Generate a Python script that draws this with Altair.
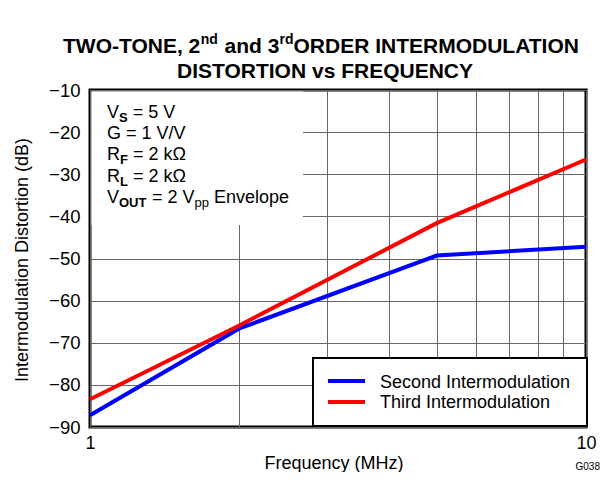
import altair as alt
import pandas as pd

# ---- data ----
freq = [1, 2, 5, 10]
second_im = [-87.2, -66.6, -49.3, -47.2]
third_im = [-83.4, -65.9, -41.6, -26.5]
series_names = ["Second Intermodulation", "Third Intermodulation"]
series_colors = ["#0000ff", "#ff0000"]
x_ticks = [1, 2, 3, 4, 5, 6, 7, 8, 9, 10]
y_ticks = [-90, -80, -70, -60, -50, -40, -30, -20, -10]

FONT = "Liberation Sans"
W, H = 496, 337

df = pd.DataFrame({
    "freq": freq + freq,
    "db": second_im + third_im,
    "series": [series_names[0]] * len(freq) + [series_names[1]] * len(freq),
})
one = pd.DataFrame({"k": [0]})


def txt(s, x, y, size, weight="normal", align="left", angle=0):
    return alt.Chart(one).mark_text(
        text=s, font=FONT, fontSize=size, fontWeight=weight, align=align,
        baseline="alphabetic", angle=angle, color="black"
    ).encode(x=alt.value(x), y=alt.value(y))


lines = alt.Chart(df).mark_line(strokeWidth=4).encode(
    x=alt.X("freq:Q",
            scale=alt.Scale(type="log", domain=[1, 10], nice=False),
            axis=alt.Axis(values=x_ticks, grid=True, gridColor="#666", gridWidth=1,
                          ticks=False, domain=False, labelFlush=False,
                          labelExpr="datum.value == 1 || datum.value == 10 ? datum.label : ''",
                          labelFontSize=18, labelFont=FONT, labelColor="black",
                          labelPadding=7, title=None)),
    y=alt.Y("db:Q",
            scale=alt.Scale(domain=[-90, -10], nice=False),
            axis=alt.Axis(values=y_ticks, grid=True, gridColor="#666", gridWidth=1,
                          ticks=False, domain=False, labelFlush=False,
                          labelFontSize=18.5, labelFont=FONT, labelColor="black",
                          labelPadding=10, title=None)),
    color=alt.Color("series:N", scale=alt.Scale(domain=series_names, range=series_colors),
                    legend=None),
    detail="series:N",
)

info_box = alt.Chart(one).mark_rect(fill="white", stroke=None).encode(
    x=alt.value(1.5), x2=alt.value(213), y=alt.value(1.5), y2=alt.value(135))

legend_box = alt.Chart(one).mark_rect(fill="white", stroke="black", strokeWidth=2).encode(
    x=alt.value(223), x2=alt.value(497), y=alt.value(268), y2=alt.value(336))

leg_blue = alt.Chart(one).mark_rule(color=series_colors[0], strokeWidth=4).encode(
    x=alt.value(238), x2=alt.value(275), y=alt.value(291))
leg_red = alt.Chart(one).mark_rule(color=series_colors[1], strokeWidth=4).encode(
    x=alt.value(238), x2=alt.value(275), y=alt.value(312))

texts = [
    # title line 1 with superscripts
    txt("TWO-TONE, 2", -27, -37, 21, "bold"),
    txt("nd", 110.7, -46, 14, "bold"),
    txt("and 3", 134.6, -37, 21, "bold"),
    txt("rd", 189.5, -46, 14, "bold"),
    txt("ORDER INTERMODULATION", 203.5, -37, 21, "bold"),
    txt("DISTORTION vs FREQUENCY", 235, -12.5, 21, "bold", align="center"),
    # axis titles
    txt("Intermodulation Distortion (dB)", -62, 170, 18, angle=270, align="center"),
    txt("Frequency (MHz)", 244, 379, 18, align="center"),
    txt("G038", 510, 380, 10, align="right"),
    # info box
    txt("V", 17, 28, 18), txt("S", 29, 32, 13, "bold"), txt("= 5 V", 42.7, 28, 18),
    txt("G = 1 V/V", 17, 49, 18),
    txt("R", 17, 70, 18), txt("F", 30, 74, 13, "bold"), txt("= 2 k\u03a9", 43, 70, 18),
    txt("R", 17, 92, 18), txt("L", 30, 96, 13, "bold"), txt("= 2 k\u03a9", 43, 92, 18),
    txt("V", 17, 113, 18), txt("OUT", 29, 117, 13, "bold"), txt("= 2 V", 62, 113, 18),
    txt("pp", 104.5, 117, 13), txt("Envelope", 124, 113, 18),
    # legend
    txt(series_names[0], 290, 297.7, 18),
    txt(series_names[1], 290, 318, 18),
]

chart = alt.layer(lines, info_box, legend_box, leg_blue, leg_red, *texts).properties(
    width=W, height=H,
    padding={"left": 82, "top": 82, "right": 16, "bottom": 45},
    autosize=alt.AutoSizeParams(type="none"),
).configure_view(stroke="black", strokeWidth=3)

chart.save("out.html", embed_options={"renderer": "svg", "actions": False})
